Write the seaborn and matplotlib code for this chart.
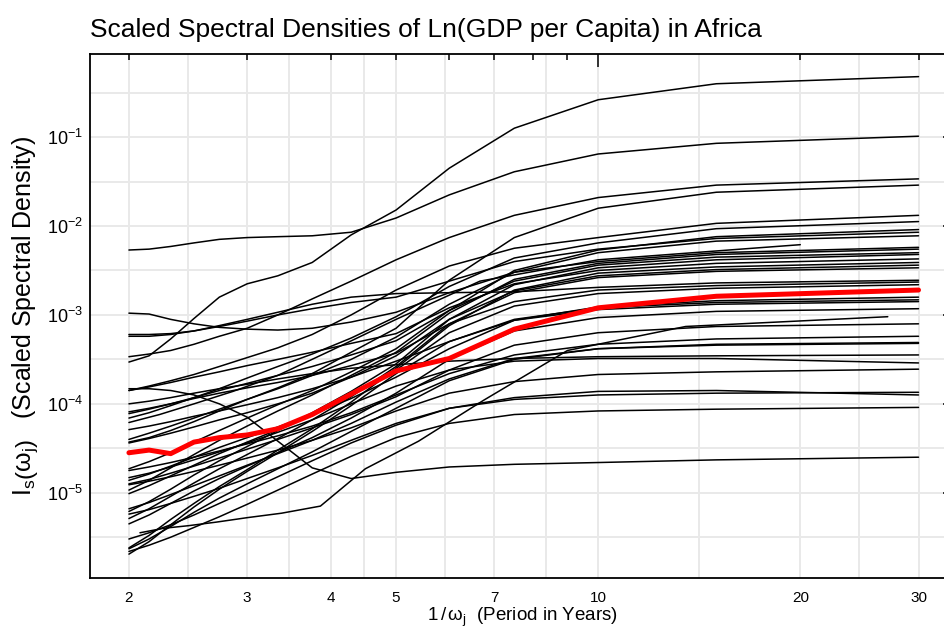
import numpy as np
import pandas as pd
import matplotlib
matplotlib.use("Agg")
import matplotlib.pyplot as plt
import matplotlib.ticker as mticker
import seaborn as sns

# periods 1/omega_j for series of length 30, 27 and 20
periods_30 = [2.0, 2.143, 2.308, 2.5, 2.727, 3.0, 3.333, 3.75, 4.286, 5.0, 6.0, 7.5, 10.0, 15.0, 30.0]
periods_27 = [2.077, 2.25, 2.455, 2.7, 3.0, 3.375, 3.857, 4.5, 5.4, 6.75, 9.0, 13.5, 27.0]
periods_20 = [2.0, 2.222, 2.5, 2.857, 3.333, 4.0, 5.0, 6.667, 10.0, 20.0]

# log10 of the scaled spectral density, one row per country
log_dens_30 = [
    [-3.53, -3.46, -3.27, -3.04, -2.80, -2.65, -2.56, -2.41, -2.10, -1.82, -1.35, -0.90, -0.58, -0.40, -0.32],
    [-2.27, -2.26, -2.23, -2.19, -2.15, -2.13, -2.12, -2.11, -2.07, -1.91, -1.65, -1.39, -1.19, -1.07, -0.99],
    [-3.47, -3.44, -3.40, -3.33, -3.24, -3.15, -3.00, -2.82, -2.62, -2.38, -2.13, -1.88, -1.68, -1.54, -1.47],
    [-4.43, -4.38, -4.30, -4.20, -4.08, -3.95, -3.82, -3.66, -3.42, -3.15, -2.61, -2.13, -1.80, -1.62, -1.54],
    [-3.85, -3.80, -3.74, -3.67, -3.58, -3.48, -3.37, -3.22, -3.00, -2.72, -2.45, -2.25, -2.13, -1.97, -1.88],
    [-4.16, -4.10, -4.02, -3.93, -3.83, -3.71, -3.58, -3.44, -3.26, -3.02, -2.68, -2.36, -2.19, -2.03, -1.95],
    [-4.73, -4.65, -4.55, -4.43, -4.30, -4.16, -4.01, -3.85, -3.64, -3.38, -2.95, -2.50, -2.27, -2.12, -2.04],
    [-3.22, -3.22, -3.21, -3.18, -3.13, -3.07, -3.00, -2.93, -2.86, -2.80, -2.62, -2.40, -2.26, -2.14, -2.07],
    [-4.40, -4.33, -4.25, -4.16, -4.06, -3.95, -3.83, -3.68, -3.50, -3.25, -2.88, -2.52, -2.30, -2.17, -2.11],
    [-2.98, -2.99, -3.05, -3.10, -3.14, -3.16, -3.17, -3.15, -3.08, -2.97, -2.75, -2.52, -2.40, -2.30, -2.24],
    [-4.97, -4.86, -4.72, -4.57, -4.41, -4.25, -4.08, -3.90, -3.68, -3.42, -2.98, -2.60, -2.42, -2.32, -2.26],
    [-4.11, -4.06, -4.00, -3.93, -3.85, -3.77, -3.68, -3.58, -3.45, -3.29, -2.95, -2.62, -2.44, -2.35, -2.30],
    [-5.21, -5.10, -4.96, -4.80, -4.64, -4.48, -4.30, -4.10, -3.86, -3.55, -3.05, -2.66, -2.47, -2.38, -2.32],
    [-3.85, -3.81, -3.76, -3.70, -3.64, -3.57, -3.50, -3.42, -3.32, -3.21, -2.92, -2.65, -2.50, -2.42, -2.37],
    [-5.62, -5.48, -5.30, -5.12, -4.93, -4.74, -4.52, -4.28, -3.98, -3.60, -3.12, -2.72, -2.53, -2.46, -2.41],
    [-4.44, -4.39, -4.33, -4.26, -4.18, -4.10, -4.00, -3.88, -3.70, -3.46, -3.05, -2.73, -2.56, -2.49, -2.44],
    [-5.29, -5.18, -5.04, -4.89, -4.73, -4.57, -4.39, -4.18, -3.92, -3.58, -3.10, -2.75, -2.58, -2.51, -2.47],
    [-3.24, -3.24, -3.22, -3.18, -3.12, -3.05, -2.97, -2.88, -2.80, -2.76, -2.75, -2.74, -2.69, -2.64, -2.61],
    [-4.09, -4.05, -4.00, -3.94, -3.88, -3.82, -3.76, -3.68, -3.57, -3.43, -3.10, -2.85, -2.72, -2.67, -2.63],
    [-5.01, -4.92, -4.81, -4.69, -4.56, -4.43, -4.29, -4.12, -3.90, -3.62, -3.20, -2.90, -2.76, -2.70, -2.66],
    [-4.86, -4.79, -4.70, -4.60, -4.49, -4.38, -4.26, -4.12, -3.94, -3.70, -3.38, -3.06, -2.91, -2.84, -2.80],
    [-5.69, -5.55, -5.36, -5.16, -4.96, -4.76, -4.55, -4.31, -4.02, -3.66, -3.30, -3.05, -2.92, -2.86, -2.83],
    [-4.29, -4.25, -4.20, -4.14, -4.08, -4.01, -3.93, -3.83, -3.70, -3.52, -3.30, -3.06, -2.94, -2.88, -2.85],
    [-5.35, -5.25, -5.12, -4.98, -4.84, -4.70, -4.55, -4.38, -4.16, -3.88, -3.50, -3.18, -3.03, -2.96, -2.93],
    [-4.90, -4.85, -4.78, -4.70, -4.61, -4.51, -4.40, -4.27, -4.12, -3.92, -3.62, -3.34, -3.20, -3.13, -3.10],
    [-4.75, -4.71, -4.66, -4.60, -4.53, -4.45, -4.36, -4.25, -4.10, -3.90, -3.66, -3.45, -3.33, -3.27, -3.24],
    [-5.63, -5.52, -5.38, -5.22, -5.06, -4.90, -4.73, -4.54, -4.31, -4.05, -3.74, -3.50, -3.38, -3.33, -3.31],
    [-5.18, -5.11, -5.02, -4.92, -4.81, -4.69, -4.56, -4.41, -4.22, -3.98, -3.72, -3.49, -3.38, -3.34, -3.32],
    [-4.00, -3.97, -3.93, -3.88, -3.83, -3.78, -3.72, -3.66, -3.60, -3.56, -3.52, -3.49, -3.47, -3.46, -3.45],
    [-4.83, -4.78, -4.71, -4.63, -4.54, -4.44, -4.32, -4.18, -4.00, -3.80, -3.62, -3.52, -3.49, -3.49, -3.54],
    [-4.91, -4.87, -4.82, -4.76, -4.69, -4.61, -4.52, -4.41, -4.27, -4.08, -3.88, -3.75, -3.67, -3.64, -3.61],
    [-5.24, -5.19, -5.12, -5.04, -4.95, -4.84, -4.72, -4.58, -4.41, -4.22, -4.05, -3.95, -3.90, -3.88, -3.87],
    [-5.52, -5.45, -5.36, -5.25, -5.12, -4.98, -4.82, -4.64, -4.44, -4.24, -4.05, -3.93, -3.86, -3.85, -3.90],
    [-5.66, -5.59, -5.50, -5.39, -5.27, -5.13, -4.97, -4.79, -4.59, -4.38, -4.22, -4.12, -4.08, -4.06, -4.04],
    [-3.83, -3.83, -3.85, -3.90, -4.00, -4.15, -4.42, -4.72, -4.84, -4.77, -4.71, -4.68, -4.66, -4.63, -4.60],
]
log_dens_27 = [-5.45, -5.40, -5.37, -5.33, -5.28, -5.23, -5.15, -4.73, -4.42, -3.96, -3.40, -3.13, -3.02]
log_dens_20 = [-4.21, -4.12, -4.00, -3.86, -3.68, -3.40, -3.05, -2.62, -2.38, -2.21]

# red summary line
log_dens_avg = [-4.55, -4.52, -4.56, -4.43, -4.38, -4.35, -4.28, -4.12, -3.89, -3.63, -3.49, -3.16, -2.92, -2.79, -2.72]

x_labels = [2, 3, 4, 5, 7, 10, 20, 30]

# build long table
rows = []
for i, vals in enumerate(log_dens_30):
    for p, v in zip(periods_30, vals):
        rows.append(("c%02d" % i, p, 10 ** v))
for p, v in zip(periods_27, log_dens_27):
    rows.append(("t27", p, 10 ** v))
for p, v in zip(periods_20, log_dens_20):
    rows.append(("t20", p, 10 ** v))
df = pd.DataFrame(rows, columns=["country", "period", "density"])
avg = pd.DataFrame({"period": periods_30, "density": [10 ** v for v in log_dens_avg]})

sns.set_style("white")
plt.rcParams["font.family"] = ["Liberation Sans", "DejaVu Sans"]
plt.rcParams["mathtext.fontset"] = "custom"
plt.rcParams["mathtext.rm"] = "Liberation Sans"
plt.rcParams["mathtext.it"] = "Liberation Sans:italic"
plt.rcParams["text.color"] = "black"
plt.rcParams["axes.labelcolor"] = "black"

fig = plt.figure(figsize=(9.45, 6.32), dpi=100)
# right spine sits just outside the picture, as in the original
ax = fig.add_axes([90 / 945, (632 - 578) / 632, 865 / 945, 524 / 632])
ax.set_xscale("log")
ax.set_yscale("log")
ax.set_xlim(1.75, 34.0)
ax.set_ylim(1.1e-6, 0.86)

# grid at labelled positions and their geometric midpoints
gx = []
for a, b in zip(x_labels[:-1], x_labels[1:]):
    gx += [a, np.sqrt(a * b)]
gx.append(x_labels[-1])
for g in gx:
    ax.axvline(g, color="#e9e9e9", lw=1.4, zorder=0)
for k in np.arange(-6, 0.5, 0.5):
    ax.axhline(10 ** k, color="#e9e9e9", lw=1.4, zorder=0)

sns.lineplot(data=df, x="period", y="density", units="country", estimator=None,
             color="black", linewidth=1.1, ax=ax, legend=False)
sns.lineplot(data=avg, x="period", y="density", color="#ff0000", linewidth=3.6, ax=ax)

# ticks
ax.xaxis.set_major_locator(mticker.FixedLocator([10]))
ax.xaxis.set_major_formatter(mticker.FixedFormatter(["10"]))
minor_x = [2, 3, 4, 5, 6, 7, 8, 9, 20, 30]
ax.xaxis.set_minor_locator(mticker.FixedLocator(minor_x))
ax.xaxis.set_minor_formatter(mticker.FixedFormatter(["2", "3", "4", "5", "", "7", "", "", "20", "30"]))
ax.yaxis.set_major_locator(mticker.LogLocator(base=10, numticks=20))
ax.yaxis.set_minor_locator(mticker.LogLocator(base=10, subs=np.arange(2, 10), numticks=20))
ax.yaxis.set_minor_formatter(mticker.NullFormatter())
ax.tick_params(which="both", direction="in", top=True, right=True, colors="black", width=1.1)
ax.tick_params(which="major", length=9)
ax.tick_params(which="minor", length=4.5)
ax.tick_params(axis="x", which="both", pad=9, labelsize=11)
ax.tick_params(axis="y", which="both", labelsize=13, pad=5)

for s in ax.spines.values():
    s.set_color("black")
    s.set_linewidth(1.3)

ax.set_title("Scaled Spectral Densities of Ln(GDP per Capita) in Africa",
             loc="left", fontsize=19, pad=12)
ax.set_xlabel(r"$\mathrm{1\,/\,\omega_j}$  (Period in Years)", fontsize=13.5, labelpad=1)
ax.set_ylabel(r"$\mathrm{I_s}\left(\mathrm{\omega_j}\right)$   (Scaled Spectral Density)",
              fontsize=18, labelpad=4)

fig.savefig("out.png", dpi=100)
